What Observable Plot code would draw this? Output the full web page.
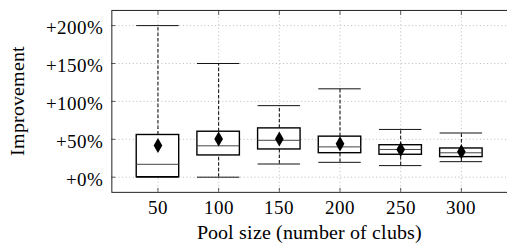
<!DOCTYPE html>
<html>
<head>
<meta charset="utf-8">
<script src="https://cdn.jsdelivr.net/npm/d3@7"></script>
<script src="https://cdn.jsdelivr.net/npm/@observablehq/plot@0.6"></script>
<style>
  @font-face {
    font-family: "ChartSerif";
    src: local("Liberation Serif"), local("LiberationSerif"), local("Liberation Serif Regular"), local("LiberationSerif-Regular"), local("Times New Roman"), local("DejaVu Serif");
    font-weight: normal;
    font-style: normal;
  }
  html, body { margin: 0; padding: 0; background: #fff; overflow: hidden; width: 507px; height: 246px; }
  #chart svg { display: block; }
  #chart svg, #chart svg g, #chart svg text {
    font-family: "ChartSerif", "Liberation Serif", "Times New Roman", Times, serif !important;
  }
  #warm { position: absolute; left: -1000px; top: 0; font-family: "ChartSerif", "Liberation Serif"; font-size: 18px; }
</style>
</head>
<body>
<div id="warm">Pool size +200% Improvement 0123456789</div>
<div id="chart"></div>
<script>
const pools = [50, 100, 150, 200, 250, 300];
const lowerWhisker = [0, 0, 17.4, 19.6, 15.3, 20.5];
const lowerQuartile = [0, 28.7, 36.6, 31.7, 29.6, 26.5];
const median = [17, 41.4, 48.7, 40, 36.6, 32.2];
const upperQuartile = [55.7, 60, 64.4, 53.5, 42.2, 37.9];
const upperWhisker = [200, 150, 94.4, 116.6, 63, 58.3];
const mean = [41.8, 50.5, 50.5, 44, 36.6, 33.5];
const xTicks = [50, 100, 150, 200, 250, 300];
const yTicks = [0, 50, 100, 150, 200];
const xTitle = "Pool size (number of clubs)";
const yTitle = "Improvement";

const rows = pools.map((p, i) => ({
  pool: p,
  lw: lowerWhisker[i], q1: lowerQuartile[i], med: median[i],
  q3: upperQuartile[i], uw: upperWhisker[i], mean: mean[i]
}));

const half = 17.5; // half box width in x units
const FONT = "ChartSerif, 'Liberation Serif', 'Times New Roman', Times, serif";

const chart = Plot.plot({
  width: 510,
  height: 246,
  marginLeft: 112,
  marginRight: 0,
  marginTop: 10,
  marginBottom: 53,
  style: { color: "#000", background: "#fff", fontFamily: FONT, fontSize: "18px" },
  x: { domain: [12, 338], ticks: xTicks, label: null },
  y: { domain: [-20, 220], ticks: yTicks, label: null },
  marks: [
    Plot.gridX(xTicks, { stroke: "#aaa", strokeOpacity: 1, strokeDasharray: "1,2.6", strokeWidth: 0.8 }),
    Plot.gridY(yTicks, { stroke: "#aaa", strokeOpacity: 1, strokeDasharray: "1,2.6", strokeWidth: 0.8 }),
    // inward tick marks (no text)
    Plot.axisX(xTicks, { anchor: "bottom", tickSize: 4, dy: -4, text: null, label: null, strokeWidth: 0.8, stroke: "#333" }),
    Plot.axisX(xTicks, { anchor: "top", tickSize: 4, dy: 4, text: null, label: null, strokeWidth: 0.8, stroke: "#333" }),
    Plot.axisY(yTicks, { anchor: "left", tickSize: 4, dx: 4, text: null, label: null, strokeWidth: 0.8, stroke: "#333" }),
    // tick labels
    Plot.text(xTicks, { x: d => d, text: d => String(d), frameAnchor: "bottom", textAnchor: "middle", lineAnchor: "top", dy: 8.2, fontFamily: FONT, fontSize: 19, fill: "#000" }),
    Plot.text(yTicks, { y: d => d, text: d => "+" + d + "%", frameAnchor: "left", textAnchor: "end", lineAnchor: "middle", dx: -9, dy: 2.5, fontFamily: FONT, fontSize: 19, fill: "#000" }),
    // axis titles
    Plot.text([xTitle], { text: d => d, frameAnchor: "bottom", textAnchor: "middle", lineAnchor: "top", dy: 32.5, fontFamily: FONT, fontSize: 20, fill: "#000" }),
    Plot.text([yTitle], { text: d => d, frameAnchor: "left", textAnchor: "middle", rotate: -90, lineAnchor: "middle", dx: -94.8, fontFamily: FONT, fontSize: 20, fill: "#000" }),
    // whiskers
    Plot.ruleX(rows, { x: "pool", y1: "q3", y2: "uw", stroke: "#000", strokeWidth: 1, strokeDasharray: "3.5,2" }),
    Plot.ruleX(rows, { x: "pool", y1: "lw", y2: "q1", stroke: "#000", strokeWidth: 1, strokeDasharray: "3.5,2" }),
    Plot.ruleY(rows, { y: "uw", x1: d => d.pool - half, x2: d => d.pool + half, stroke: "#111", strokeWidth: 1 }),
    Plot.ruleY(rows, { y: "lw", x1: d => d.pool - half, x2: d => d.pool + half, stroke: "#111", strokeWidth: 1 }),
    // boxes
    Plot.rect(rows, { x1: d => d.pool - half, x2: d => d.pool + half, y1: "q1", y2: "q3", fill: "#fff", stroke: "#000", strokeWidth: 1.4 }),
    Plot.ruleY(rows, { y: "med", x1: d => d.pool - half, x2: d => d.pool + half, stroke: "#444", strokeWidth: 1 }),
    // means
    Plot.dot(rows, { x: "pool", y: "mean", symbol: "diamond", r: 4.6, fill: "#000", stroke: "none" }),
    Plot.frame({ stroke: "#222", strokeWidth: 1 })
  ]
});
chart.querySelectorAll("text").forEach(t => t.style.setProperty("font-family", FONT, "important"));
document.getElementById("chart").appendChild(chart);
</script>
</body>
</html>
